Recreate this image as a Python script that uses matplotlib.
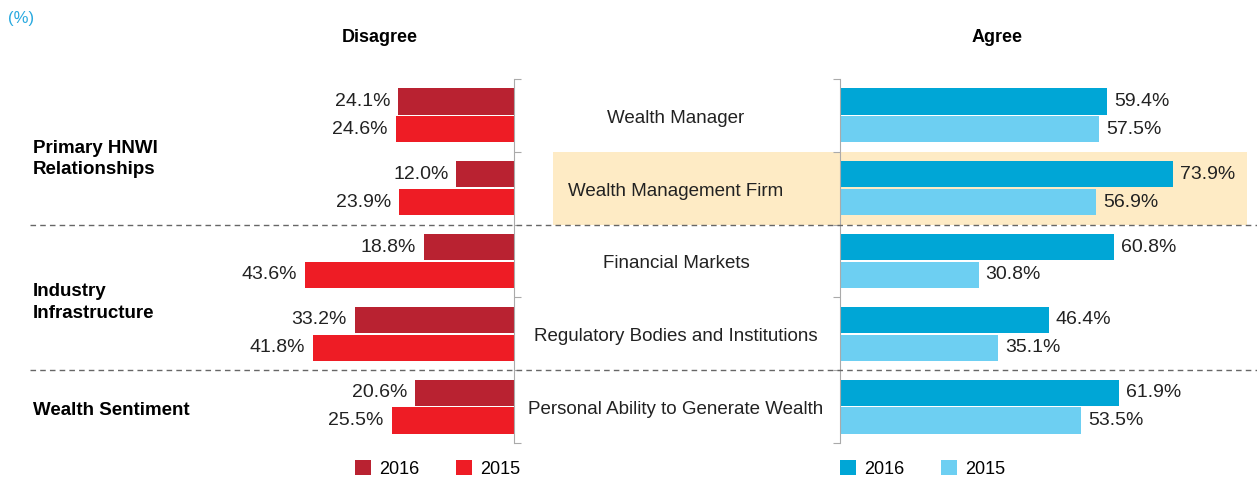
import matplotlib.pyplot as plt
import matplotlib.transforms as mtransforms
from matplotlib.patches import Rectangle
from matplotlib.lines import Line2D
import numpy as np

plt.rcParams['font.family'] = ['Liberation Sans', 'DejaVu Sans']

# data
categories = ["Wealth Manager", "Wealth Management Firm", "Financial Markets",
              "Regulatory Bodies and Institutions", "Personal Ability to Generate Wealth"]
disagree_2016 = [24.1, 12.0, 18.8, 33.2, 20.6]
disagree_2015 = [24.6, 23.9, 43.6, 41.8, 25.5]
agree_2016 = [59.4, 73.9, 60.8, 46.4, 61.9]
agree_2015 = [57.5, 56.9, 30.8, 35.1, 53.5]
groups = ["Primary HNWI\nRelationships", "Industry\nInfrastructure", "Wealth Sentiment"]
group_pos = [0.6, 2.57, 4.05]
years = ["2016", "2015"]

RED16, RED15 = '#B92231', '#EE1C25'
BLUE16, BLUE15 = '#00A6D6', '#6DCFF2'
GRAY = '#AAAAAA'
TXT = '#222222'

W, H = 1257, 482
fig = plt.figure(figsize=(W / 100, H / 100), dpi=100)

top, bot = 79, 443
axl = fig.add_axes([34 / W, (H - bot) / H, 480 / W, (bot - top) / H])
axr = fig.add_axes([840 / W, (H - bot) / H, 405 / W, (bot - top) / H])

y = np.arange(len(categories))
bh = 0.36
off = 0.19

bl16 = axl.barh(y - off, disagree_2016, height=bh, color=RED16, label=years[0])
bl15 = axl.barh(y + off, disagree_2015, height=bh, color=RED15, label=years[1])
br16 = axr.barh(y - off, agree_2016, height=bh, color=BLUE16, label=years[0])
br15 = axr.barh(y + off, agree_2015, height=bh, color=BLUE15, label=years[1])

# value labels: left of the red bars, right of the blue bars
for vals, dy in ((disagree_2016, -off), (disagree_2015, off)):
    for i, v in enumerate(vals):
        axl.annotate(f"{v:.1f}%", (v, i + dy), xytext=(-8, 0), textcoords='offset pixels',
                     ha='right', va='center', fontsize=14, color=TXT)
for vals, dy in ((agree_2016, -off), (agree_2015, off)):
    for i, v in enumerate(vals):
        axr.annotate(f"{v:.1f}%", (v, i + dy), xytext=(7, 0), textcoords='offset pixels',
                     ha='left', va='center', fontsize=14, color=TXT)

axl.set_xlim(100, 0)
axr.set_xlim(0, 90)
bounds = np.arange(-0.5, len(categories), 1.0)
for ax in (axl, axr):
    ax.set_ylim(len(categories) - 0.5, -0.5)
    ax.set_xticks([])
    ax.set_yticks(bounds)
    ax.set_yticklabels([])
    ax.tick_params(axis='y', length=5, color=GRAY, direction='out')
    for s in ax.spines.values():
        s.set_visible(False)
    ax.patch.set_alpha(0)
axl.yaxis.tick_right()
axl.spines['right'].set_visible(True)
axl.spines['right'].set_color(GRAY)
axr.spines['left'].set_visible(True)
axr.spines['left'].set_color(GRAY)

trans = mtransforms.blended_transform_factory(fig.transFigure, axl.transData)

# highlight for Wealth Management Firm
fig.add_artist(Rectangle((553 / W, 0.5), (1247 - 553) / W, 1.0, transform=trans,
                         facecolor='#FEEBC5', edgecolor='none', zorder=-1))

# dashed separators
for yb in (1.5, 3.5):
    fig.add_artist(Line2D([30 / W, 1.0], [yb, yb], transform=trans,
                          color='#666666', lw=1, ls=(0, (4, 3))))

# category labels in the middle
for i, c in enumerate(categories):
    fig.text(676 / W, i + 0.04, c, transform=trans, ha='center', va='center',
             fontsize=13.5, color=TXT)

for g, p in zip(groups, group_pos):
    fig.text(33 / W, p, g, transform=trans, ha='left', va='center',
             fontsize=13.5, fontweight='bold', linespacing=1.35)

fig.text(380 / W, 1 - 38 / H, "Disagree", ha='center', va='center', fontsize=13, fontweight='bold')
fig.text(997 / W, 1 - 38 / H, "Agree", ha='center', va='center', fontsize=13, fontweight='bold')
fig.text(8 / W, 1 - 18 / H, "(%)", ha='left', va='center', fontsize=12, color='#29A9DF')

leg_kw = dict(ncol=2, frameon=False, fontsize=13, loc='center left', handlelength=0.9,
              handleheight=0.9, handletextpad=0.45, columnspacing=2.0,
              borderpad=0, borderaxespad=0)
fig.legend(handles=[bl16, bl15], bbox_to_anchor=(355 / W, 13 / H), **leg_kw)
fig.legend(handles=[br16, br15], bbox_to_anchor=(840 / W, 13 / H), **leg_kw)

fig.savefig('out.png', dpi=100)
